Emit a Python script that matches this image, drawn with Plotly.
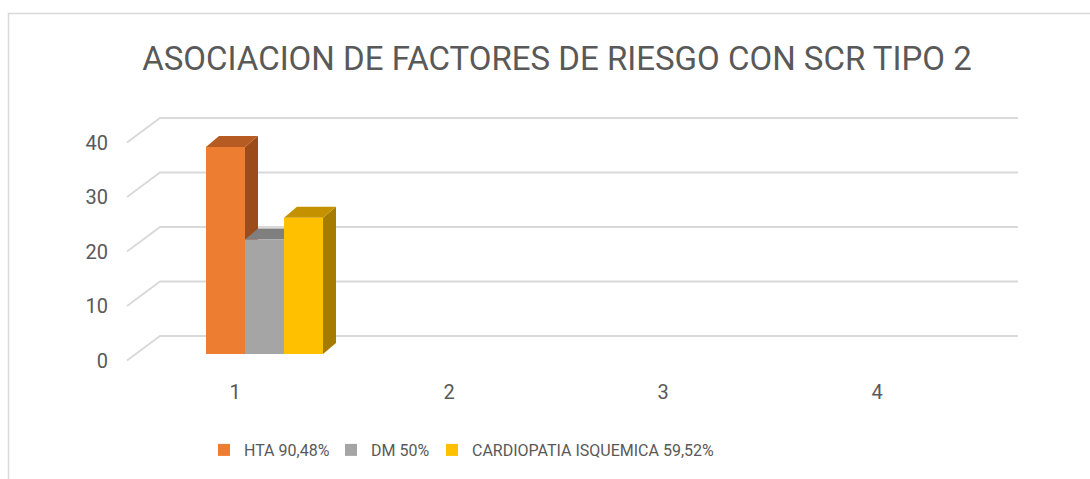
import plotly.graph_objects as go

# ---------------- data ----------------
categories = ["1", "2", "3", "4"]
series_names = ["HTA 90,48%", "DM 50%", "CARDIOPATIA ISQUEMICA 59,52%"]
hta = [38, None, None, None]
dm = [21, None, None, None]
cardio = [25, None, None, None]
y_ticks = [0, 10, 20, 30, 40]
title_text = "ASOCIACION DE FACTORES DE RIESGO CON SCR TIPO 2"

# ---------------- style ----------------
front_colors = ["#ED7D31", "#A5A5A5", "#FFC000"]
top_colors = ["#B65C22", "#7F7F7F", "#C49200"]
side_colors = ["#9C4B1B", "#6E6E6E", "#A67C00"]
text_color = "#595959"
grid_color = "#D9D9D9"
FONT = "Roboto, Liberation Sans, sans-serif"
legend_px = [204, 331, 432]   # left pixel of each legend entry

W, H = 1090, 479
M_B = 101
PX_PER_CAT = 214.0
PX_PER_UNIT = 5.45
LABEL_PX = 235.0          # pixel of category "1" label
ZERO_PX = 336.0           # pixel of back-wall zero line
PLOT_H = H - M_B

x_range = [1 - LABEL_PX / PX_PER_CAT, 1 + (W - LABEL_PX) / PX_PER_CAT]
y_range = [(ZERO_PX - PLOT_H) / PX_PER_UNIT, ZERO_PX / PX_PER_UNIT]

# 3D pseudo depth (wall)
WALL_DX = 33 / PX_PER_CAT
WALL_DY = 24.5 / PX_PER_UNIT
GRID_X0 = 1 + (160 - LABEL_PX) / PX_PER_CAT
GRID_X1 = 1 + (1018 - LABEL_PX) / PX_PER_CAT

# bars
BAR_W = 39 / PX_PER_CAT
CLUSTER_OFF = (206 - LABEL_PX) / PX_PER_CAT
BAR_BASE = -3.3
BAR_DX = 13 / PX_PER_CAT
BAR_DY = 11 / PX_PER_UNIT

fig = go.Figure()

# gridlines (back wall + diagonal on side wall)
gx, gy = [], []
for v in y_ticks:
    gx += [GRID_X0 - WALL_DX, GRID_X0, GRID_X1, None]
    gy += [v - WALL_DY, v, v, None]
fig.add_trace(go.Scatter(x=gx, y=gy, mode="lines",
                         line=dict(color=grid_color, width=1.8),
                         hoverinfo="skip", showlegend=False))

series = [hta, dm, cardio]
for i, vals in enumerate(series):
    for j, v in enumerate(vals):
        if v is None:
            continue
        c = j + 1
        x0 = c + CLUSTER_OFF + i * BAR_W
        x1 = x0 + BAR_W
        yb = BAR_BASE
        yt = BAR_BASE + v
        # side face
        fig.add_trace(go.Scatter(
            x=[x1, x1 + BAR_DX, x1 + BAR_DX, x1, x1],
            y=[yb, yb + BAR_DY, yt + BAR_DY, yt, yb],
            fill="toself", fillcolor=side_colors[i], mode="lines",
            line=dict(width=0, color=side_colors[i]),
            hoverinfo="skip", showlegend=False))
        # top face
        fig.add_trace(go.Scatter(
            x=[x0, x1, x1 + BAR_DX, x0 + BAR_DX, x0],
            y=[yt, yt, yt + BAR_DY, yt + BAR_DY, yt],
            fill="toself", fillcolor=top_colors[i], mode="lines",
            line=dict(width=0, color=top_colors[i]),
            hoverinfo="skip", showlegend=False))
        # front face
        fig.add_trace(go.Scatter(
            x=[x0, x1, x1, x0, x0],
            y=[yb, yb, yt, yt, yb],
            fill="toself", fillcolor=front_colors[i], mode="lines",
            line=dict(width=0, color=front_colors[i]),
            name=series_names[i], hoverinfo="text",
            text=f"{series_names[i]}: {v}", showlegend=False))

# legend entries (one legend per entry for exact placement)
legend_keys = ["legend", "legend2", "legend3"]
for i, name in enumerate(series_names):
    fig.add_trace(go.Bar(x=[None], y=[None], name=name, legend=legend_keys[i],
                         marker=dict(color=front_colors[i], line=dict(width=0))))

# y tick label axis (front of side wall)
fig.add_trace(go.Scatter(x=[None], y=[None], yaxis="y2", showlegend=False,
                         hoverinfo="skip"))

legend_common = dict(orientation="h", xanchor="left",
                     y=(PLOT_H - 450) / PLOT_H, yanchor="middle",
                     font=dict(size=16, color=text_color), itemwidth=30,
                     bgcolor="rgba(0,0,0,0)")

fig.update_layout(
    width=W, height=H,
    margin=dict(l=0, r=0, t=0, b=M_B),
    paper_bgcolor="white", plot_bgcolor="rgba(0,0,0,0)",
    font=dict(family=FONT, color=text_color),
    title=dict(text=title_text, x=557 / W, xanchor="center",
               y=1 - 58 / H, yanchor="middle",
               font=dict(family=FONT, size=33, color=text_color)),
    xaxis=dict(range=x_range, tickvals=[1, 2, 3, 4], ticktext=categories,
               showgrid=False, zeroline=False, showline=False, ticks="",
               tickfont=dict(size=20, color=text_color), fixedrange=True),
    yaxis=dict(range=y_range, visible=False, fixedrange=True),
    yaxis2=dict(range=[y_range[0] + WALL_DY, y_range[1] + WALL_DY],
                overlaying="y", anchor="free", position=108 / W, side="left",
                tickvals=y_ticks, showgrid=False, zeroline=False, showline=False,
                ticks="", tickfont=dict(size=20, color=text_color), fixedrange=True),
    legend=dict(x=legend_px[0] / W, **legend_common),
    legend2=dict(x=legend_px[1] / W, **legend_common),
    legend3=dict(x=legend_px[2] / W, **legend_common),
    showlegend=True,
    shapes=[dict(type="rect", xref="paper", yref="paper",
                 x0=8.5 / W, x1=1.05, y0=-0.5, y1=(PLOT_H - 13.5) / PLOT_H,
                 line=dict(color=grid_color, width=1.5), layer="below")],
)

fig.write_html("out.html", config={"displayModeBar": False},
               post_script="document.body.style.margin='0';document.body.style.overflow='hidden';")
